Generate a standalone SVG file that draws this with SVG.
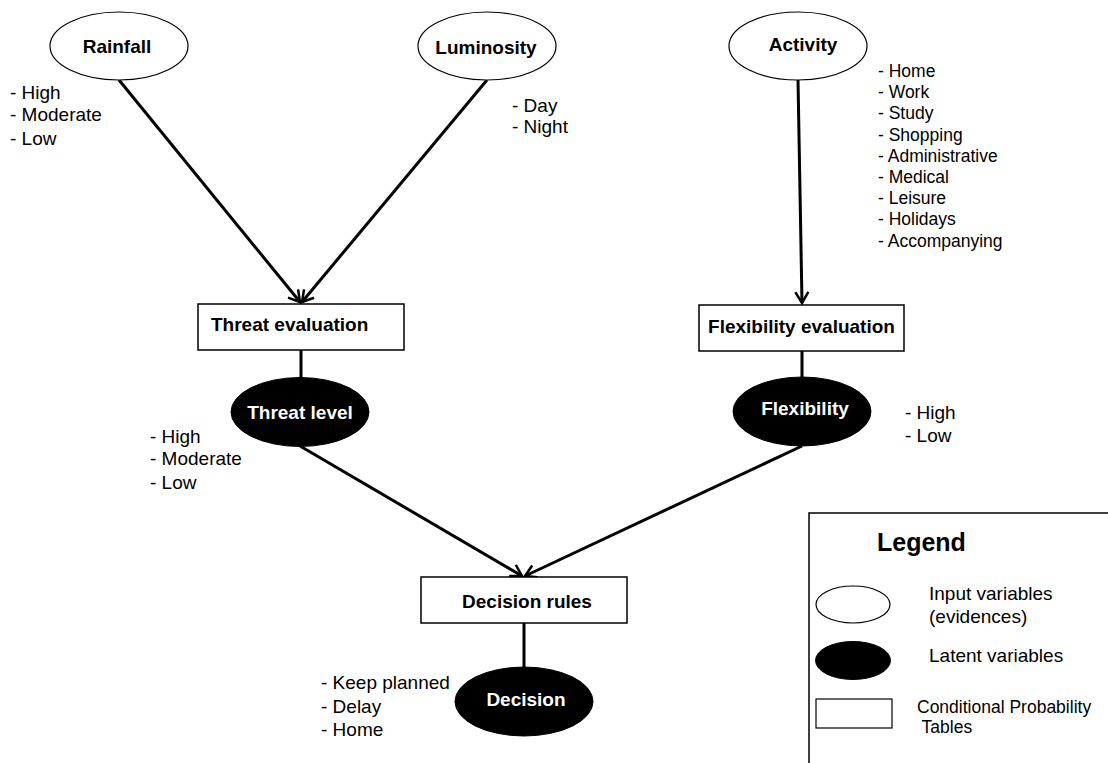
<svg xmlns="http://www.w3.org/2000/svg" width="1108" height="763" viewBox="0 0 1108 763">
<defs>
<marker id="arr" viewBox="0 0 16 16" refX="13" refY="8" markerWidth="16" markerHeight="16" markerUnits="userSpaceOnUse" orient="auto">
<path d="M2,1.5 L13,8 L2,14.5" fill="none" stroke="#000" stroke-width="2.5"/>
</marker>
</defs>
<style>
.in{fill:#fff;stroke:#000;stroke-width:1.2}
.lat{fill:#000;stroke:#000;stroke-width:1}
.cpt{fill:#fff;stroke:#000;stroke-width:1.5}
.edge{stroke:#000;stroke-width:3;fill:none}
.nb{font-family:"Liberation Sans",Arial,sans-serif;font-weight:bold;font-size:19px;fill:#000}
.nw{font-family:"Liberation Sans",Arial,sans-serif;font-weight:bold;font-size:19px;fill:#fff}
.lb{font-family:"Liberation Sans",Arial,sans-serif;font-size:19px;fill:#000}
.ls{font-family:"Liberation Sans",Arial,sans-serif;font-size:17.5px;fill:#000}
</style>
<rect width="1108" height="763" fill="#fff"/>
<g id="connectors">
<line class="edge" x1="119" y1="80" x2="300" y2="302" marker-end="url(#arr)"/>
<line class="edge" x1="487" y1="80" x2="302" y2="302" marker-end="url(#arr)"/>
<line class="edge" x1="798" y1="80" x2="802" y2="303" marker-end="url(#arr)"/>
<line class="edge" x1="301" y1="350" x2="301" y2="378"/>
<line class="edge" x1="802" y1="351" x2="802" y2="378"/>
<line class="edge" x1="300" y1="446" x2="522" y2="576" marker-end="url(#arr)"/>
<line class="edge" x1="802" y1="446" x2="525" y2="576" marker-end="url(#arr)"/>
<line class="edge" x1="524" y1="623" x2="524" y2="668"/>
</g>
<g id="rainfall">
<ellipse class="in" cx="119" cy="46" rx="69" ry="34"/>
<text class="nb" x="117" y="53" text-anchor="middle">Rainfall</text>
<text class="lb" x="10" y="99">- High</text>
<text class="lb" x="10" y="121">- Moderate</text>
<text class="lb" x="10" y="145">- Low</text>
</g>
<g id="luminosity">
<ellipse class="in" cx="487" cy="46" rx="69" ry="34"/>
<text class="nb" x="486" y="54" text-anchor="middle">Luminosity</text>
<text class="lb" x="512" y="112">- Day</text>
<text class="lb" x="512" y="133">- Night</text>
</g>
<g id="activity">
<ellipse class="in" cx="798" cy="46" rx="69" ry="34"/>
<text class="nb" x="803" y="51" text-anchor="middle">Activity</text>
<text class="ls" x="878" y="77">- Home</text>
<text class="ls" x="878" y="98.2">- Work</text>
<text class="ls" x="878" y="119.4">- Study</text>
<text class="ls" x="878" y="140.6">- Shopping</text>
<text class="ls" x="878" y="161.8">- Administrative</text>
<text class="ls" x="878" y="183">- Medical</text>
<text class="ls" x="878" y="204.2">- Leisure</text>
<text class="ls" x="878" y="225.4">- Holidays</text>
<text class="ls" x="878" y="246.6">- Accompanying</text>
</g>
<g id="threat-evaluation">
<rect class="cpt" x="198" y="304" width="206" height="46"/>
<text class="nb" x="211" y="331">Threat evaluation</text>
</g>
<g id="flexibility-evaluation">
<rect class="cpt" x="699" y="305" width="205" height="46"/>
<text class="nb" x="801.5" y="333" text-anchor="middle">Flexibility evaluation</text>
</g>
<g id="threat-level">
<ellipse class="lat" cx="300" cy="412" rx="69" ry="34.5"/>
<text class="nw" x="300" y="419" text-anchor="middle">Threat level</text>
<text class="lb" x="150" y="443">- High</text>
<text class="lb" x="150" y="465">- Moderate</text>
<text class="lb" x="150" y="489">- Low</text>
</g>
<g id="flexibility">
<ellipse class="lat" cx="802" cy="411.5" rx="69" ry="34.5"/>
<text class="nw" x="805" y="415" text-anchor="middle">Flexibility</text>
<text class="lb" x="905" y="419">- High</text>
<text class="lb" x="905" y="442">- Low</text>
</g>
<g id="decision-rules">
<rect class="cpt" x="421" y="577" width="206" height="46"/>
<text class="nb" x="527" y="608" text-anchor="middle">Decision rules</text>
</g>
<g id="decision">
<ellipse class="lat" cx="524" cy="701.5" rx="69" ry="34.5"/>
<text class="nw" x="526" y="706" text-anchor="middle">Decision</text>
<text class="lb" x="321" y="689">- Keep planned</text>
<text class="lb" x="321" y="713">- Delay</text>
<text class="lb" x="321" y="736">- Home</text>
</g>
<g id="legend">
<rect x="809" y="513" width="400" height="300" fill="#fff" stroke="#000" stroke-width="1.5"/>
<text class="nb" x="877" y="551" style="font-size:25px">Legend</text>
<ellipse class="in" cx="853" cy="604.5" rx="37" ry="18.5"/>
<text class="lb" x="929" y="600">Input variables</text>
<text class="lb" x="929" y="623">(evidences)</text>
<ellipse class="lat" cx="853" cy="660.5" rx="37.5" ry="19"/>
<text class="lb" x="929" y="662">Latent variables</text>
<rect x="816" y="699" width="76" height="29" fill="#fff" stroke="#000" stroke-width="1.2"/>
<text class="lb" x="917" y="713" style="font-size:17.5px">Conditional Probability</text>
<text class="lb" x="917" y="733" style="font-size:17.5px" xml:space="preserve"> Tables</text>
</g>
</svg>
